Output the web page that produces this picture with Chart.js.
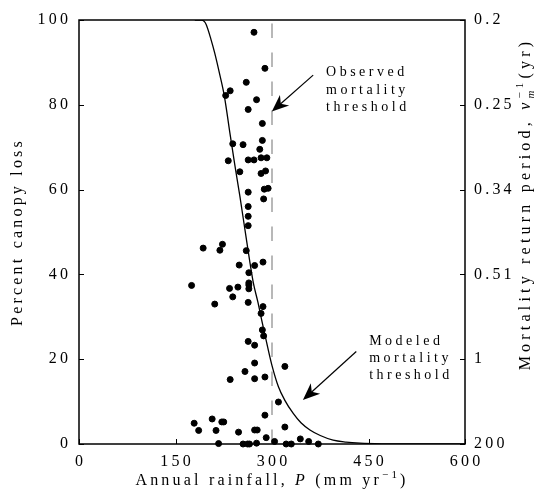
<!DOCTYPE html>
<html>
<head>
<meta charset="utf-8">
<script src="https://cdn.jsdelivr.net/npm/chart.js@4.4.1/dist/chart.umd.min.js"></script>
<style>
  html, body { margin: 0; padding: 0; background: #fff; }
  canvas { display: block; }
</style>
</head>
<body>
<canvas id="chart" width="537" height="492"></canvas>
<script>
// observed stands: annual rainfall (mm/yr) vs percent canopy loss
const rainfall = [
  272, 289, 260, 235, 228, 276, 263, 285, 239, 255,
  285, 281, 232, 263, 272, 283, 292, 250, 283, 290,
  263, 288, 294, 287, 263, 263, 263, 223, 193, 219,
  260, 286, 249, 273, 264, 175, 264, 264, 264, 234,
  247, 239, 211, 263, 286, 283, 285, 287, 263, 273,
  273, 258, 235, 273, 289, 320, 310, 289, 207, 179,
  222, 225, 186, 213, 248, 273, 277, 320, 291, 217,
  255, 262, 265, 276, 304, 322, 330, 344, 357, 372
];
const canopyLoss = [
  97.1, 88.6, 85.3, 83.3, 82.2, 81.2, 78.9, 75.6, 70.8, 70.6,
  71.6, 69.5, 66.8, 67.0, 67.0, 67.5, 67.5, 64.2, 63.8, 64.4,
  59.4, 60.1, 60.3, 57.8, 56.0, 53.7, 51.5, 47.1, 46.2, 45.7,
  45.6, 42.9, 42.2, 42.1, 40.4, 37.4, 38.0, 37.5, 36.6, 36.7,
  37.0, 34.7, 33.0, 33.4, 32.4, 30.8, 26.9, 25.5, 24.2, 23.3,
  19.1, 17.1, 15.2, 15.4, 15.8, 18.3, 9.9, 6.8, 5.9, 4.9,
  5.2, 5.2, 3.2, 3.2, 2.8, 3.3, 3.3, 4.0, 1.5, 0.1,
  0, 0, 0, 0.2, 0.6, 0, 0, 1.2, 0.6, 0
];

// modeled mortality threshold curve
const modelRainfall = [180, 190, 195, 198, 205, 211, 219, 226, 235, 242, 250, 258, 265, 271, 278,
  285, 293, 300, 310, 320, 333, 345, 359, 375, 395, 415, 437, 470, 520, 600];
const modelLoss = [100, 100, 99.6, 98.8, 95.5, 92.2, 87, 82, 72.9, 66, 58.5, 50.5, 43.5, 38, 33.5,
  28.5, 23, 18.5, 13.5, 10.3, 7.2, 5, 3.3, 2, 0.9, 0.45, 0.2, 0.05, 0, 0];

const observedThreshold = 300;

const xTicks = [0, 150, 300, 450, 600];
const yTicks = [0, 20, 40, 60, 80, 100];
const returnPeriodLabels = ['200', '1', '0.51', '0.34', '0.25', '0.2'];

const notes = [
  { lines: ['Observed', 'mortality', 'threshold'], x: 384, y: [87.7, 83.5, 79.5], from: [364, 87], to: [299.7, 78.4] },
  { lines: ['Modeled', 'mortality', 'threshold'], x: 451, y: [24.3, 20.2, 16.1], from: [431, 21.8], to: [348, 10.4] }
];

const SERIF = '"Liberation Serif", "DejaVu Serif", serif';

// spread tick digits like the original typeset labels
const spaced = s => String(s).split('').join('\u2009');

function drawRich(ctx, pieces, cx, cy, rot) {
  ctx.save();
  ctx.translate(cx, cy);
  ctx.rotate(rot);
  ctx.textBaseline = 'middle';
  ctx.textAlign = 'left';
  let w = 0;
  pieces.forEach(p => {
    ctx.font = p.font;
    p.w = ctx.measureText(p.t).width;
    w += p.adv === 0 ? 0 : p.w;
  });
  let x = -w / 2;
  pieces.forEach(p => {
    ctx.font = p.font;
    ctx.fillText(p.t, x, p.dy || 0);
    if (p.adv !== 0) x += p.w;
  });
  ctx.restore();
}

const framePlugin = {
  id: 'frame',
  afterDraw(chart) {
    const ctx = chart.ctx;
    const a = chart.chartArea;
    const xs = chart.scales.x, ys = chart.scales.y;
    ctx.save();
    ctx.strokeStyle = '#000';
    ctx.lineWidth = 1.5;
    ctx.strokeRect(a.left, a.top, a.right - a.left, a.bottom - a.top);
    ctx.lineWidth = 1;
    ctx.beginPath();
    xTicks.forEach(v => {
      const px = Math.round(xs.getPixelForValue(v)) + 0.5;
      ctx.moveTo(px, a.bottom); ctx.lineTo(px, a.bottom - 5);
    });
    yTicks.forEach(v => {
      const py = Math.round(ys.getPixelForValue(v)) + 0.5;
      ctx.moveTo(a.left, py); ctx.lineTo(a.left + 5, py);
      ctx.moveTo(a.right, py); ctx.lineTo(a.right - 5, py);
    });
    ctx.stroke();

    // annotations
    ctx.fillStyle = '#000';
    ctx.letterSpacing = '3.5px';
    ctx.font = '14px ' + SERIF;
    ctx.textBaseline = 'middle';
    ctx.textAlign = 'left';
    notes.forEach(n => {
      n.lines.forEach((t, i) => {
        ctx.fillText(t, xs.getPixelForValue(n.x), ys.getPixelForValue(n.y[i]));
      });
      const fx = xs.getPixelForValue(n.from[0]), fy = ys.getPixelForValue(n.from[1]);
      const tx = xs.getPixelForValue(n.to[0]), ty = ys.getPixelForValue(n.to[1]);
      const ang = Math.atan2(ty - fy, tx - fx);
      ctx.lineWidth = 1.2;
      ctx.beginPath();
      ctx.moveTo(fx, fy);
      ctx.lineTo(tx - 10 * Math.cos(ang), ty - 10 * Math.sin(ang));
      ctx.stroke();
      ctx.save();
      ctx.translate(tx, ty);
      ctx.rotate(ang);
      ctx.beginPath();
      ctx.moveTo(0, 0);
      ctx.lineTo(-17, -7);
      ctx.lineTo(-12, 0);
      ctx.lineTo(-17, 7);
      ctx.closePath();
      ctx.fill();
      ctx.restore();
    });

    // axis titles
    ctx.letterSpacing = '3.2px';
    const f = '16px ' + SERIF, fi = 'italic 16px ' + SERIF, fs = '11px ' + SERIF, fsi = 'italic 11px ' + SERIF;
    drawRich(ctx, [
      { t: 'Annual rainfall, ', font: f },
      { t: 'P', font: fi },
      { t: ' (mm yr', font: f },
      { t: '\u22121', font: fs, dy: -6 },
      { t: ')', font: f }
    ], (a.left + a.right) / 2, 481, 0);
    drawRich(ctx, [{ t: 'Percent canopy loss', font: f }], 18, (a.top + a.bottom) / 2, -Math.PI / 2);
    ctx.letterSpacing = '4.2px';
    drawRich(ctx, [
      { t: 'Mortality return period, ', font: f },
      { t: '\u03BD', font: fi },
      { t: 'm', font: fsi, dy: 5, adv: 0 },
      { t: '\u22121', font: fs, dy: -6 },
      { t: '(yr)', font: f }
    ], 526, 204, -Math.PI / 2);
    ctx.restore();
  }
};

const tickFont = { family: SERIF, size: 16 };

new Chart(document.getElementById('chart'), {
  type: 'scatter',
  data: {
    datasets: [
      {
        data: rainfall.map((p, i) => ({ x: p, y: canopyLoss[i] })),
        backgroundColor: '#000',
        borderColor: '#000',
        pointRadius: 3,
        pointHoverRadius: 3,
        clip: false
      },
      {
        data: modelRainfall.map((p, i) => ({ x: p, y: modelLoss[i] })),
        showLine: true,
        borderColor: '#000',
        borderWidth: 1.3,
        pointRadius: 0,
        cubicInterpolationMode: 'monotone'
      },
      {
        data: [{ x: observedThreshold, y: 0 }, { x: observedThreshold, y: 100 }],
        showLine: true,
        borderColor: '#b8b8b8',
        borderWidth: 2,
        borderDash: [14.5, 14.5],
        pointRadius: 0
      }
    ]
  },
  options: {
    responsive: false,
    animation: false,
    layout: { padding: { top: 20, left: 0, right: 0, bottom: 0 } },
    plugins: {
      legend: { display: false },
      tooltip: { enabled: false }
    },
    scales: {
      x: {
        type: 'linear',
        min: 0, max: 600,
        afterBuildTicks: s => { s.ticks = xTicks.map(v => ({ value: v })); },
        afterFit: s => { s.height = 48; },
        grid: { display: false },
        border: { display: false },
        ticks: { color: '#000', font: tickFont, padding: 0, maxRotation: 0, callback: v => spaced(v) }
      },
      y: {
        min: 0, max: 100,
        afterBuildTicks: s => { s.ticks = yTicks.map(v => ({ value: v })); },
        afterFit: s => { s.width = 79; },
        grid: { display: false },
        border: { display: false },
        ticks: { color: '#000', font: tickFont, padding: 3, callback: v => spaced(v) }
      },
      y2: {
        position: 'right',
        min: 0, max: 100,
        afterBuildTicks: s => { s.ticks = yTicks.map(v => ({ value: v })); },
        afterFit: s => { s.width = 72; },
        grid: { display: false },
        border: { display: false },
        ticks: {
          color: '#000', font: tickFont, padding: 1,
          callback: v => spaced(returnPeriodLabels[yTicks.indexOf(v)])
        }
      }
    }
  },
  plugins: [framePlugin]
});
</script>
</body>
</html>
